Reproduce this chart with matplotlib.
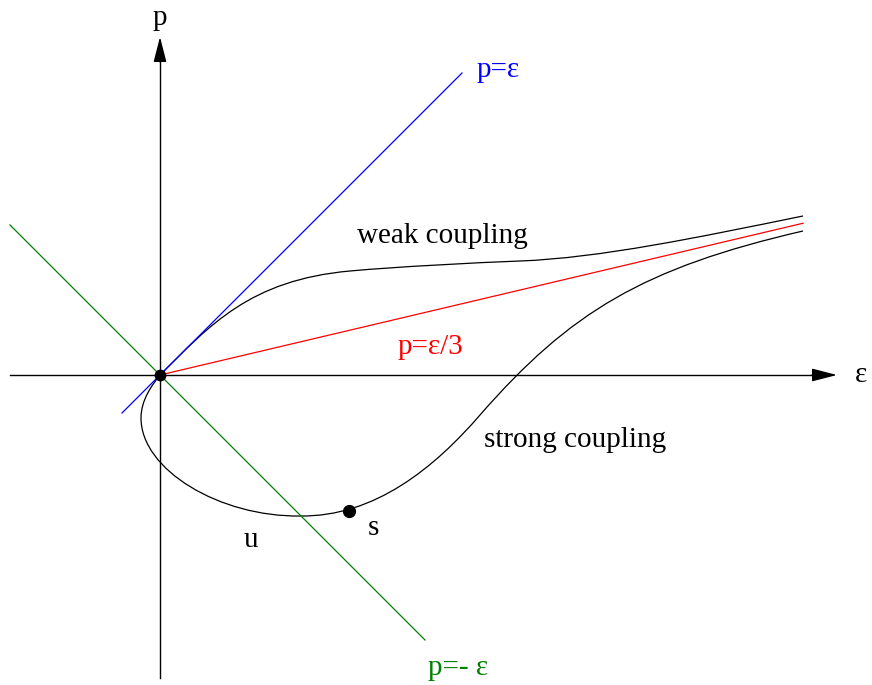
import numpy as np
import matplotlib.pyplot as plt
from matplotlib.path import Path
from matplotlib.patches import PathPatch

plt.rcParams['font.family'] = ['Liberation Serif', 'DejaVu Serif']

# data units: 1 unit = 100 px, origin at the crossing of the axes
x_axis = [-1.5, 6.77]
y_axis = [-3.03, 3.38]

blue_x = [-0.38, 3.02]          # p = eps
red_x = [0.0, 6.43]             # p = eps/3 (drawn slope)
red_slope = 0.236
green_x = [-1.5, 2.65]          # p = -eps

# spline control points (cubic bezier: start, ctrl, ctrl, end, ctrl, ctrl, end ...)
weak_x = [0.0, 0.5, 0.9, 1.9, 2.4, 3.1, 3.6, 4.4, 5.4, 6.43]
weak_y = [0.0, 0.5, 0.95, 1.04, 1.085, 1.12, 1.14, 1.17, 1.38, 1.59]

strong_x = [0.0, -0.08, -0.19, -0.19, -0.19, 0.6, 1.40, 2.15, 2.75, 3.2,
            4.1, 4.83, 6.43]
strong_y = [0.0, -0.10, -0.25, -0.43, -0.95, -1.42, -1.41, -1.42, -0.92, -0.4,
            0.63, 1.07, 1.44]

s_point = (1.89, -1.36)


def bezier_path(xs, ys):
    verts = list(zip(xs, ys))
    codes = [Path.MOVETO] + [Path.CURVE4] * (len(verts) - 1)
    return Path(verts, codes)


fig = plt.figure(figsize=(8.72, 6.85), dpi=100)
ax = fig.add_axes([0, 0, 1, 1])
ax.set_xlim(-1.6, 7.12)
ax.set_ylim(-3.10, 3.75)
ax.axis('off')

# axes with arrows
arrow = dict(arrowstyle='-|>,head_length=1.55,head_width=0.4',
             color='black', lw=1.0, shrinkA=0, shrinkB=0)
ax.plot([x_axis[0], x_axis[1] - 0.2], [0, 0], color='black', lw=1.0)
ax.plot([0, 0], [y_axis[0], y_axis[1] - 0.2], color='black', lw=1.0)
ax.annotate('', xy=(x_axis[1], 0), xytext=(x_axis[1] - 0.25, 0), arrowprops=arrow)
ax.annotate('', xy=(0, y_axis[1]), xytext=(0, y_axis[1] - 0.25), arrowprops=arrow)

# reference lines
ax.plot(blue_x, blue_x, color='blue', lw=0.9)
ax.plot(red_x, [red_slope * v for v in red_x], color='red', lw=0.9)
ax.plot(green_x, [-v for v in green_x], color='green', lw=0.9)

# curves
ax.add_patch(PathPatch(bezier_path(weak_x, weak_y), fill=False,
                       edgecolor='black', lw=0.9))
ax.add_patch(PathPatch(bezier_path(strong_x, strong_y), fill=False,
                       edgecolor='black', lw=0.9))

ax.plot([0], [0], 'o', color='black', ms=7.5, zorder=5)
ax.plot([s_point[0]], [s_point[1]], 'o', color='black', ms=8.5, zorder=5)

fs = 21
ax.text(0.0, 3.50, 'p', fontsize=fs, ha='center', va='baseline')
ax.text(6.95, 0.0, 'ε', fontsize=fs, ha='left', va='center')
ax.text(3.17, 3.05, 'p=ε', fontsize=fs, color='blue', ha='left', va='center')
ax.text(2.70, 0.28, 'p=ε/3', fontsize=fs, color='red', ha='center', va='center')
ax.text(2.82, 1.39, 'weak coupling', fontsize=fs, ha='center', va='center')
ax.text(4.15, -0.65, 'strong coupling', fontsize=fs, ha='center', va='center')
ax.text(0.91, -1.65, 'u', fontsize=fs, ha='center', va='center')
ax.text(2.13, -1.53, 's', fontsize=fs, ha='center', va='center')
ax.text(2.98, -2.93, 'p=- ε', fontsize=fs, color='green', ha='center', va='center')

fig.savefig('out.png', dpi=100)
